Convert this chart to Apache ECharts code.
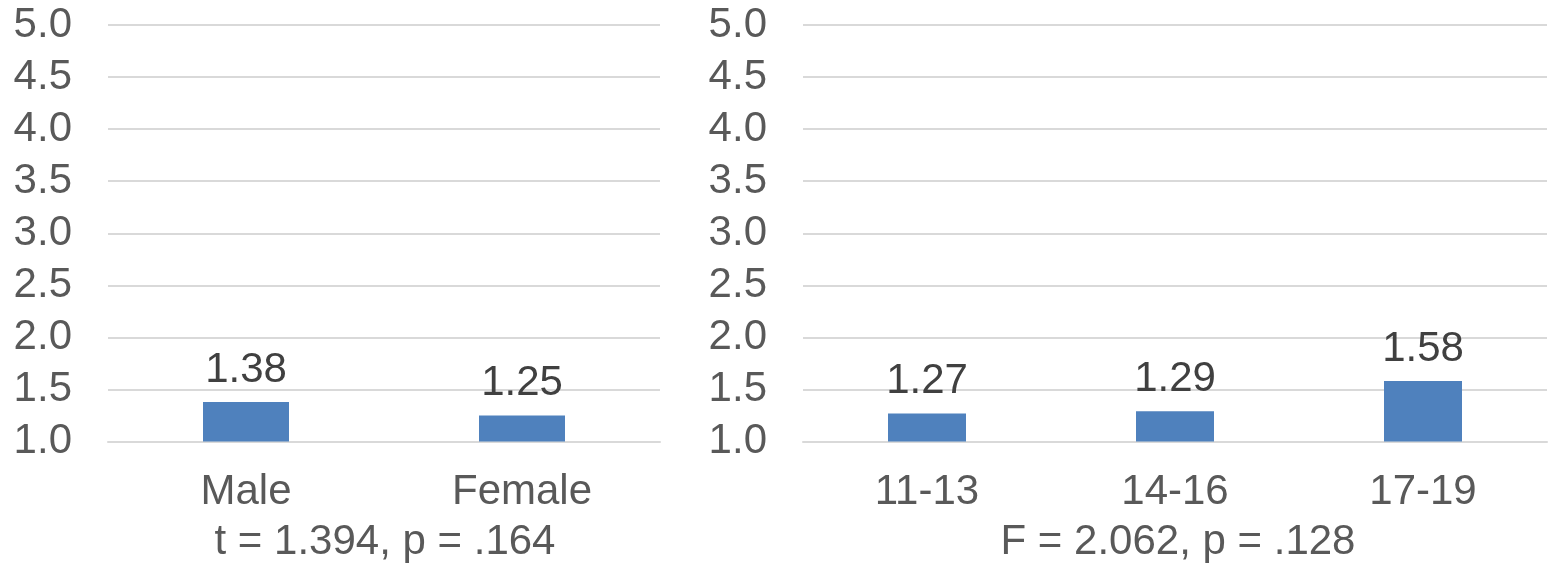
<!DOCTYPE html>
<html>
<head>
<meta charset="utf-8">
<script src="https://cdn.jsdelivr.net/npm/echarts@6/dist/echarts.min.js"></script>
<style>
  html, body { margin: 0; padding: 0; background: #fff; }
  #chart { width: 1550px; height: 572px; }
</style>
</head>
<body>
<div id="chart"></div>
<script>
// Mean scores by gender and by age group
const genderCategories = ['Male', 'Female'];
const genderMeans = [1.38, 1.25];
const ageCategories = ['11-13', '14-16', '17-19'];
const ageMeans = [1.27, 1.29, 1.58];
const genderTest = 't = 1.394, p = .164';
const ageTest = 'F = 2.062, p = .128';

const FONT = '"Liberation Sans", Arial, sans-serif';
const FS = 42;
const BAR = '#4f81bd';
const GRID_LINE = '#d9d9d9';

function yAxisFor(gridIndex) {
  return {
    type: 'value', gridIndex: gridIndex,
    min: 1, max: 5, interval: 0.5,
    axisLine: { show: false }, axisTick: { show: false },
    axisLabel: {
      color: '#595959', fontSize: FS, fontFamily: FONT, margin: 36,
      formatter: v => v.toFixed(1)
    },
    splitLine: { lineStyle: { color: GRID_LINE, width: 2 } }
  };
}

function xAxisFor(gridIndex, cats) {
  return {
    type: 'category', gridIndex: gridIndex, data: cats,
    axisLine: { lineStyle: { color: GRID_LINE, width: 2 } },
    axisTick: { show: false },
    axisLabel: { color: '#595959', fontSize: FS, fontFamily: FONT, margin: 30 }
  };
}

function barSeries(idx, values, width) {
  return {
    type: 'bar', xAxisIndex: idx, yAxisIndex: idx, data: values,
    barWidth: width,
    itemStyle: { color: BAR },
    label: {
      show: true, position: 'top', distance: 11,
      color: '#404040', fontSize: FS, fontFamily: FONT,
      formatter: p => p.value.toFixed(2)
    }
  };
}

const chart = echarts.init(document.getElementById('chart'), null, { renderer: 'canvas' });
chart.setOption({
  animation: false,
  backgroundColor: '#ffffff',
  title: [
    { text: genderTest, left: 380, top: 516, textAlign: 'center',
      textStyle: { color: '#595959', fontSize: FS, fontWeight: 'normal', fontFamily: FONT } },
    { text: ageTest, left: 1173, top: 516, textAlign: 'center',
      textStyle: { color: '#595959', fontSize: FS, fontWeight: 'normal', fontFamily: FONT } }
  ],
  grid: [
    { left: 108, right: 890, top: 25, bottom: 130.5 },
    { left: 803, right: 3, top: 25, bottom: 130.5 }
  ],
  xAxis: [xAxisFor(0, genderCategories), xAxisFor(1, ageCategories)],
  yAxis: [yAxisFor(0), yAxisFor(1)],
  series: [barSeries(0, genderMeans, 86), barSeries(1, ageMeans, 78)]
});
</script>
</body>
</html>
